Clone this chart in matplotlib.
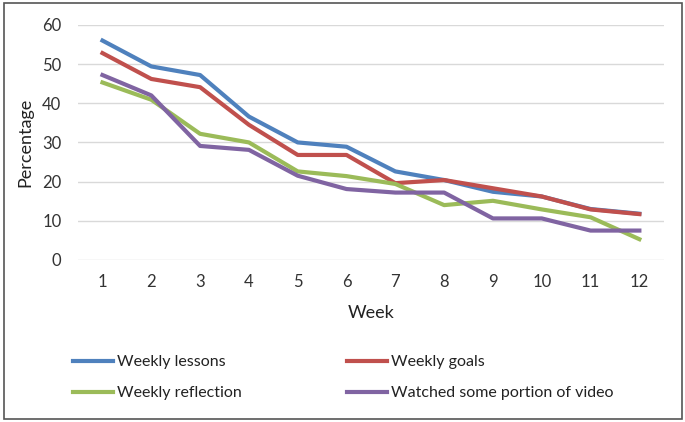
import matplotlib.pyplot as plt
from matplotlib.patches import Rectangle

plt.rcParams['font.family'] = ['Lato', 'DejaVu Sans']

weeks = list(range(1, 13))
lessons = [56.0, 49.4, 47.2, 36.6, 30.0, 28.9, 22.6, 20.4, 17.4, 16.2, 13.0, 11.8]
goals = [52.8, 46.2, 44.1, 34.5, 26.8, 26.8, 19.6, 20.4, 18.3, 16.2, 12.9, 11.7]
reflection = [45.3, 40.9, 32.2, 30.0, 22.6, 21.4, 19.4, 14.0, 15.1, 12.9, 10.9, 5.3]
video = [47.2, 42.0, 29.1, 28.1, 21.5, 18.1, 17.2, 17.2, 10.6, 10.6, 7.5, 7.5]

fig = plt.figure(figsize=(6.85, 4.22), dpi=100)
ax = fig.add_axes([0.114, 0.384, 0.855, 0.557])

l1, = ax.plot(weeks, lessons, color='#4F81BD', lw=3, label='Weekly lessons')
l2, = ax.plot(weeks, goals, color='#C0504D', lw=3, label='Weekly goals')
l3, = ax.plot(weeks, reflection, color='#9BBB59', lw=3, label='Weekly reflection')
l4, = ax.plot(weeks, video, color='#8064A2', lw=3, label='Watched some portion of video')

ax.set_xlim(0.5, 12.5)
ax.set_ylim(0, 60)
ax.set_xticks(weeks)
ax.set_yticks(range(0, 61, 10))
ax.grid(axis='y', color='#d9d9d9', lw=1)
ax.set_axisbelow(True)
for s in ax.spines.values():
    s.set_visible(False)
ax.tick_params(length=0, labelsize=12, colors='#333333', pad=10)
ax.tick_params(axis='y', pad=12)
ax.set_xlabel('Week', fontsize=13, color='#222222', labelpad=11)
ax.set_ylabel('Percentage', fontsize=13, color='#222222', labelpad=6)

# row-wise order in 2 columns
fig.legend([l1, l3, l2, l4], [l1.get_label(), l3.get_label(), l2.get_label(), l4.get_label()],
           ncol=2, loc='center left', bbox_to_anchor=(0.107, 0.105), frameon=False,
           fontsize=11.5, handlelength=2.5, handletextpad=0.25, columnspacing=6.6,
           labelspacing=1.05, borderpad=0, borderaxespad=0, labelcolor='#222222')

fig.patches.append(Rectangle((0.006, 0.008), 0.99, 0.985, transform=fig.transFigure,
                             fill=False, edgecolor='#555555', lw=1.2))

fig.savefig('out.png', dpi=100)
